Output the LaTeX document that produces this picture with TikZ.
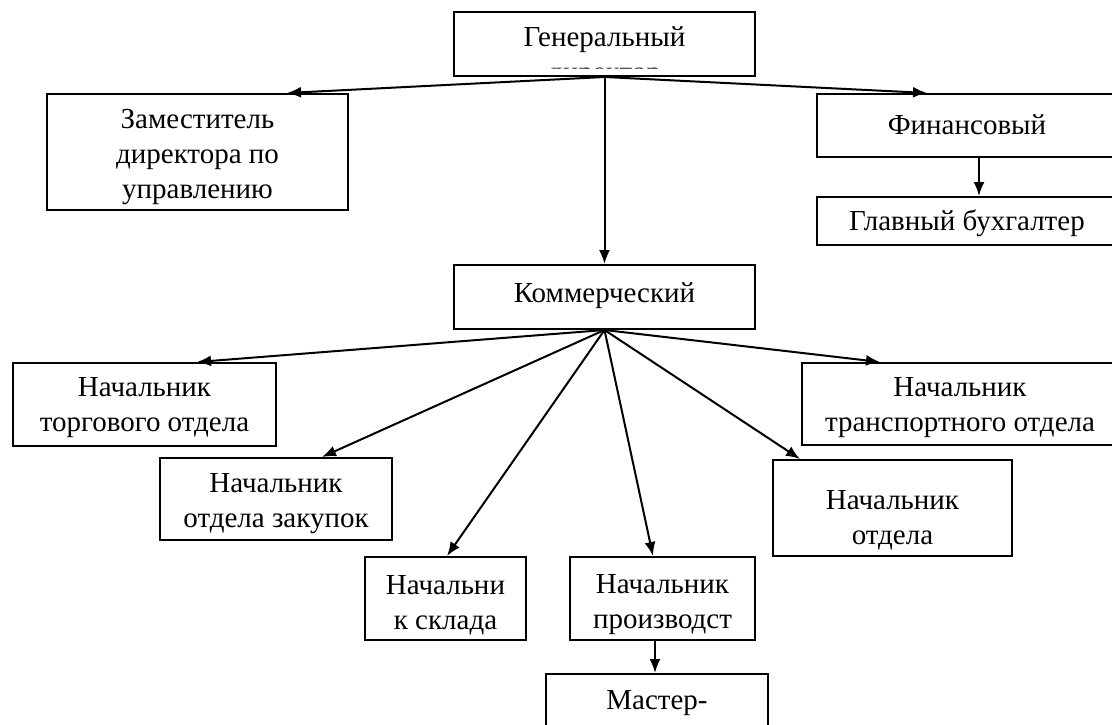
\documentclass[tikz,border=0pt]{standalone}
\usepackage{fontspec}
\setmainfont{Liberation Serif}
\usetikzlibrary{arrows.meta}
\begin{document}
\begin{tikzpicture}[x=1pt,y=-1pt,
  box/.style={draw=black,line width=2pt,rectangle,inner sep=0pt,anchor=center},
  txt/.style={inner sep=0pt,align=center,anchor=center,font=\fontsize{29}{35}\selectfont},
  arr/.style={line width=2pt,-{Latex[length=14pt,width=11pt]}}]
\clip (0,0) rectangle (1112,725);
\fill[white] (0,0) rectangle (1112,725);
% boxes
\node[box,minimum width=301pt,minimum height=64pt] (gen) at (604.5,44) {};
\node[box,minimum width=301pt,minimum height=116pt] (zam) at (197.5,152) {};
\node[box,minimum width=300pt,minimum height=63pt] (fin) at (967,125.5) {};
\node[box,minimum width=300pt,minimum height=48pt] (glav) at (967,221) {};
\node[box,minimum width=301pt,minimum height=64pt] (kom) at (604.5,297) {};
\node[box,minimum width=263pt,minimum height=83pt] (torg) at (144.5,404.5) {};
\node[box,minimum width=316pt,minimum height=82pt] (transp) at (960,404) {};
\node[box,minimum width=232pt,minimum height=82pt] (zak) at (276,499) {};
\node[box,minimum width=161pt,minimum height=83pt] (sklad) at (445.5,598.5) {};
\node[box,minimum width=185pt,minimum height=83pt] (proizv) at (662.5,598.5) {};
\node[box,minimum width=239pt,minimum height=96pt] (otdel) at (892.5,508) {};
\node[box,minimum width=222pt,minimum height=86pt] (master) at (657,717) {};
% texts
\node[txt] (genT) at (604.5,40) {Генеральный};
\begin{scope}
\clip (456,14) rectangle (753,69);
\node[txt,anchor=base,text=black!70] (genT2) at (604.5,81.5) {директор};
\end{scope}
\node[txt] (zamT) at (197.5,157) {Заместитель\\директора по\\управлению};
\node[txt] (finT) at (967,125) {Финансовый};
\node[txt] (glavT) at (967,223) {Главный бухгалтер};
\node[txt] (komT) at (604.5,296) {Коммерческий};
\node[txt] (torgT) at (144.5,408) {Начальник\\торгового отдела};
\node[txt] (transpT) at (960,408) {Начальник\\транспортного отдела};
\node[txt] (zakT) at (276,504) {Начальник\\отдела закупок};
\node[txt] (skladT) at (445.5,605) {Начальни\\к склада};
\node[txt] (proizvT) at (662.5,605) {Начальник\\производст};
\node[txt] (otdelT) at (892.5,520) {Начальник\\отдела};
\node[txt] (masterT) at (657,703) {Мастер-};
% connectors
\draw[arr] (gen.south) -- ([xshift=89.5pt]zam.north);
\draw[arr] (gen.south) -- ([xshift=-40pt]fin.north);
\draw[arr] (gen.south) -- (kom.north);
\draw[arr] ([xshift=12pt]fin.south) -- ([xshift=12pt]glav.north);
\draw[arr] (kom.south) -- ([xshift=52.5pt]torg.north);
\draw[arr] (kom.south) -- ([xshift=-80pt]transp.north);
\draw[arr] (kom.south) -- ([xshift=46pt]zak.north);
\draw[arr] (kom.south) -- ([xshift=1.5pt]sklad.north);
\draw[arr] (kom.south) -- ([xshift=-9.5pt]proizv.north);
\draw[arr] (kom.south) -- ([xshift=-92.5pt]otdel.north);
\draw[arr] ([xshift=-7.5pt]proizv.south) -- ([xshift=-2pt]master.north);
\end{tikzpicture}
\end{document}
